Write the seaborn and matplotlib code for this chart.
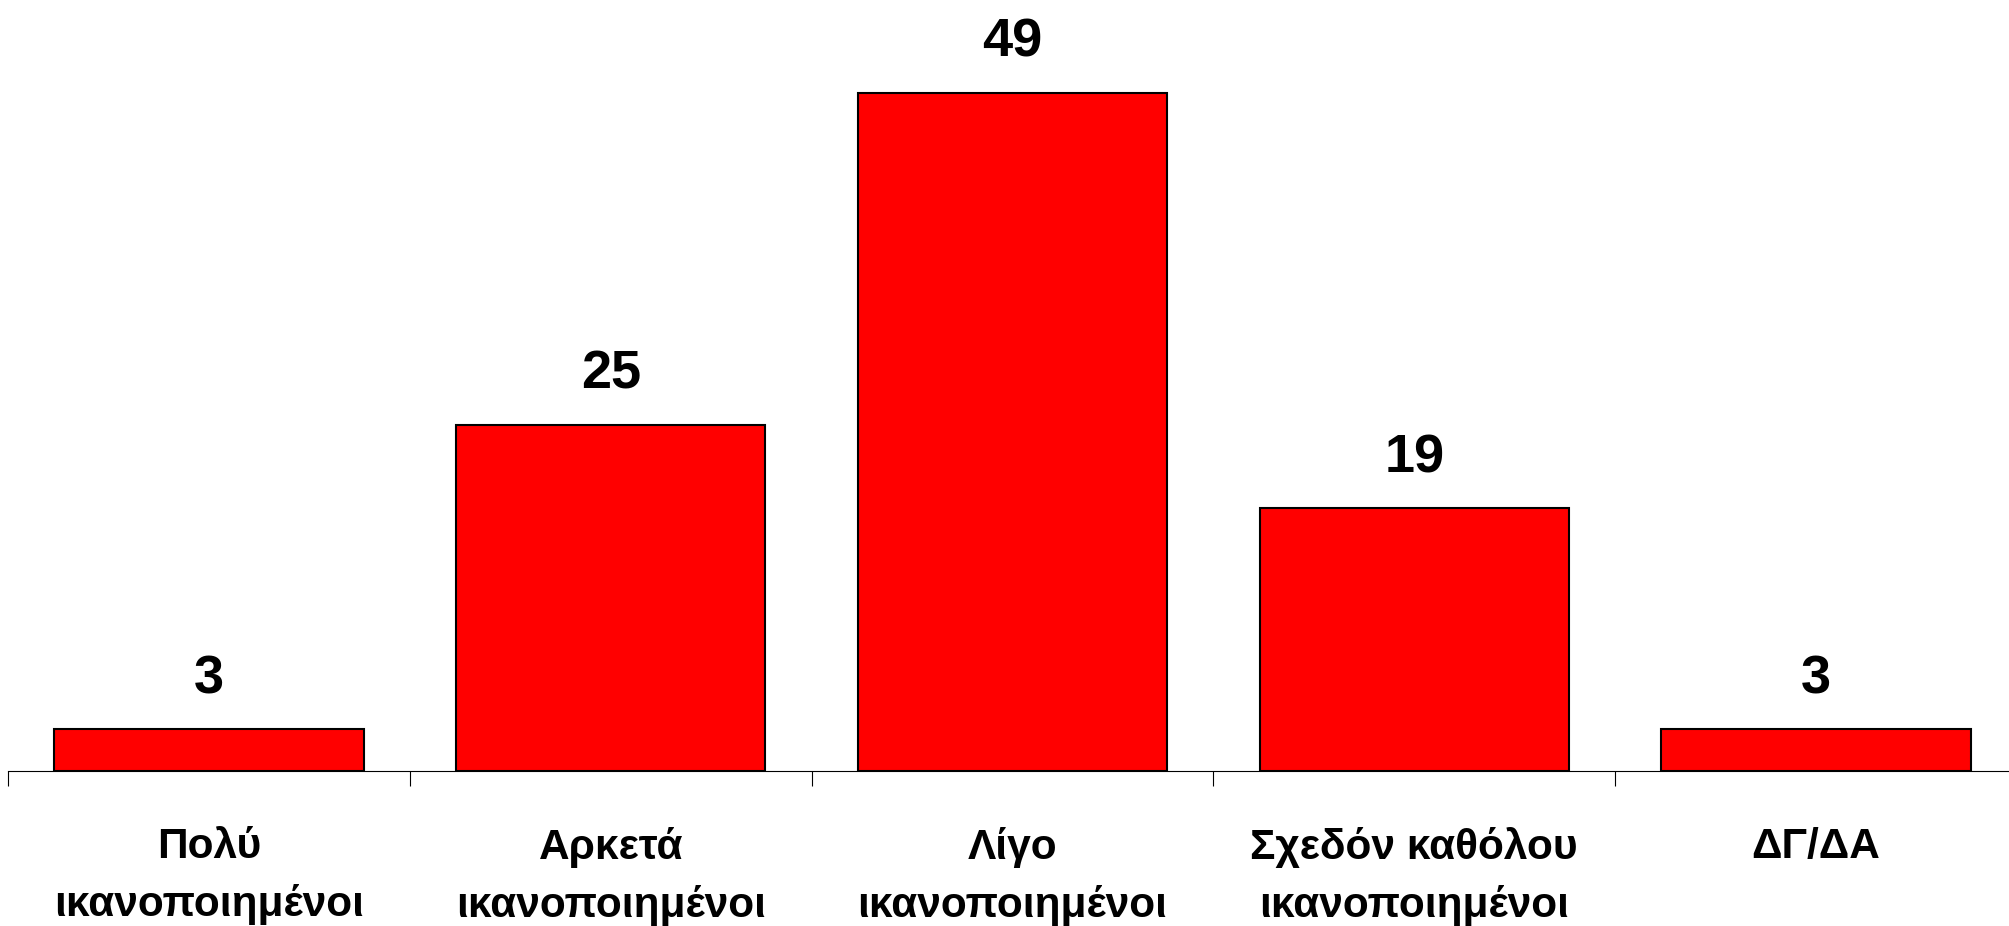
import matplotlib
matplotlib.use("Agg")
import matplotlib.pyplot as plt
import seaborn as sns
import pandas as pd
import numpy as np

categories = ["Πολύ\nικανοποιημένοι", "Αρκετά\nικανοποιημένοι", "Λίγο\nικανοποιημένοι",
              "Σχεδόν καθόλου\nικανοποιημένοι", "ΔΓ/ΔΑ"]
values = [3, 25, 49, 19, 3]


def main():
    sns.set_style("white")
    plt.rcParams['font.family'] = ['Liberation Sans', 'DejaVu Sans']
    plt.rcParams['text.color'] = 'black'
    plt.rcParams['xtick.color'] = 'black'
    plot_bars(categories, values)


def plot_bars(cats, vals):
    data = pd.DataFrame({"cat": cats, "val": vals})
    fig = plt.figure(figsize=(20.09, 9.26), dpi=100)
    ax = fig.add_axes([8 / 2009, 155 / 926, 2009 / 2009, 771 / 926])
    sns.barplot(data=data, x="cat", y="val", color="#ff0000", saturation=1,
                width=0.77, edgecolor="black", linewidth=1.5, ax=ax)

    for c in ax.containers:
        ax.bar_label(c, padding=18, fontsize=39, fontweight="bold", color="black")

    ax.set_xlim(-0.5, 4.5)
    ax.set_ylim(0, 55.7)
    n = len(cats)
    ax.set_xticks(np.arange(n + 1) - 0.5)
    ax.set_xticklabels([])
    ax.set_xticks(np.arange(n), minor=True)
    ax.set_xticklabels(cats, minor=True, fontsize=30.5, fontweight="bold",
                       linespacing=1.55, color="black")
    ax.tick_params(axis="x", which="major", direction="out", length=11, width=0.8,
                   color="black", bottom=True)
    ax.tick_params(axis="x", which="minor", length=0, pad=40)
    ax.set_yticks([])
    for s in ["top", "left", "right"]:
        ax.spines[s].set_visible(False)
    ax.spines["bottom"].set_color("black")
    ax.spines["bottom"].set_linewidth(0.8)
    ax.set_xlabel("")
    ax.set_ylabel("")
    plt.savefig("out.png", dpi=100)


if __name__ == '__main__':
    main()
